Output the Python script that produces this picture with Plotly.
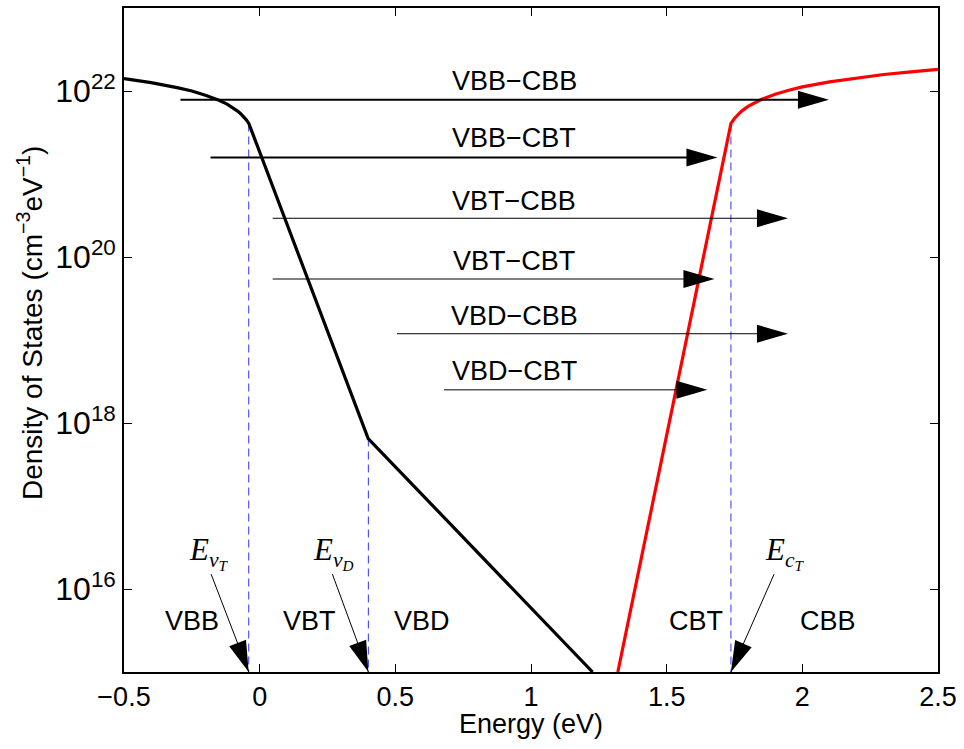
import numpy as np
import plotly.graph_objects as go

# ---------------- data ----------------
# valence band density of states (black)
vb_energy = [-0.5, -0.45, -0.4, -0.3, -0.25, -0.2, -0.15, -0.12, -0.1, -0.08, -0.07, -0.06, -0.05, -0.04, 0.40, 1.227]
vb_dos = [1.41e22, 1.338e22, 1.26e22, 1.09e22, 9.99e21, 8.9e21, 7.75e21, 6.95e21, 6.35e21, 5.69e21,
          5.33e21, 4.95e21, 4.53e21, 4.07e21, 6.5e17, 1.0e15]

# conduction band density of states (red)
cb_energy = [1.320, 1.737, 1.75, 1.76, 1.77, 1.78, 1.80, 1.85, 1.90, 1.95, 2.0, 2.1, 2.2, 2.3, 2.4, 2.5]
cb_dos = [1.0e15, 4.07e21, 4.67e21, 5.10e21, 5.48e21, 5.85e21, 6.52e21, 7.94e21, 9.15e21, 1.02e22,
          1.12e22, 1.29e22, 1.44e22, 1.58e22, 1.70e22, 1.82e22]

# transition arrows
arrow_labels = ["VBB\u2212CBB", "VBB\u2212CBT", "VBT\u2212CBB", "VBT\u2212CBT", "VBD\u2212CBB", "VBD\u2212CBT"]
arrow_start = [-0.292, -0.181, 0.048, 0.048, 0.506, 0.679]
arrow_end = [2.098, 1.687, 1.947, 1.676, 1.947, 1.650]
arrow_level = [7.87e21, 1.585e21, 2.93e20, 5.43e19, 1.19e19, 2.51e18]
arrow_width = [2, 2, 1, 1, 1, 1]
label_energy = [0.938, 0.938, 0.938, 0.938, 0.938, 0.938]
label_level = [1.32e22, 2.75e21, 4.77e20, 9.06e19, 1.96e19, 4.22e18]

# band-edge markers
edge_names = ["<i>E</i><sub><i>v</i><sub><i>T</i></sub></sub>",
              "<i>E</i><sub><i>v</i><sub><i>D</i></sub></sub>",
              "<i>E</i><sub><i>c</i><sub><i>T</i></sub></sub>"]
edge_energy = [-0.0404, 0.4007, 1.7368]
edge_knee = [4.07e21, 6.5e17, 4.07e21]
edge_tail_energy = [-0.179, 0.268, 1.896]
edge_tail_level = [1.51e16, 1.51e16, 1.51e16]
edge_label_energy = [-0.185, 0.271, 1.936]
edge_label_level = [2.75e16, 2.75e16, 2.75e16]

# region names
region_names = ["VBB", "VBT", "VBD", "CBT", "CBB"]
region_energy = [-0.249, 0.182, 0.597, 1.608, 2.096]
region_level = [4.07e15, 4.07e15, 4.07e15, 4.07e15, 4.07e15]

x_ticks = [-0.5, 0, 0.5, 1, 1.5, 2, 2.5]
y_ticks = [1e16, 1e18, 1e20, 1e22]
y_ticktext = ["10<sup>16</sup>", "10<sup>18</sup>", "10<sup>20</sup>", "10<sup>22</sup>"]
x_range = [-0.5, 2.5]
y_range_log = [15, 23]

# ---------------- layout constants ----------------
W, H = 964, 749
ML, MR, MT, MB = 124, 26, 6, 77
PW, PH = W - ML - MR, H - MT - MB
SANS = "Liberation Sans, Arial, Helvetica, sans-serif"
SERIF = "Liberation Serif, Times New Roman, serif"
HEAD_L, HEAD_W = 31, 9


def to_px(e, d):
    px = ML + (e - x_range[0]) / (x_range[1] - x_range[0]) * PW
    py = MT + (y_range_log[1] - np.log10(d)) / (y_range_log[1] - y_range_log[0]) * PH
    return px, py


def head_path(ux, uy):
    nx, ny = -uy, ux
    p1 = (-HEAD_L * ux + HEAD_W * nx, -HEAD_L * uy + HEAD_W * ny)
    p2 = (-HEAD_L * ux - HEAD_W * nx, -HEAD_L * uy - HEAD_W * ny)
    return f"M0,0 L{p1[0]:.2f},{-p1[1]:.2f} L{p2[0]:.2f},{-p2[1]:.2f} Z"


def head_shape(e, d, ux, uy):
    return dict(type="path", xref="x", yref="y", xsizemode="pixel", ysizemode="pixel",
                xanchor=e, yanchor=d, path=head_path(ux, uy),
                fillcolor="black", line=dict(width=0), layer="above")


fig = go.Figure()
shapes = []
annotations = []

# dashed band-edge lines
ybottom = 10 ** y_range_log[0]
for e, k in zip(edge_energy, edge_knee):
    fig.add_trace(go.Scatter(x=[e, e], y=[k, ybottom], mode="lines",
                             line=dict(color="#4646ff", width=1.1, dash="8px,5px"), hoverinfo="skip"))

# DOS curves
fig.add_trace(go.Scatter(x=vb_energy, y=vb_dos, mode="lines", line=dict(color="black", width=3.2)))
fig.add_trace(go.Scatter(x=cb_energy, y=cb_dos, mode="lines", line=dict(color="red", width=3.2)))

# transition arrows
for lab, xs, xe, lv, lw, le, ll in zip(arrow_labels, arrow_start, arrow_end, arrow_level,
                                       arrow_width, label_energy, label_level):
    fig.add_trace(go.Scatter(x=[xs, xe - 0.02], y=[lv, lv], mode="lines",
                             line=dict(color="black", width=lw), hoverinfo="skip"))
    shapes.append(head_shape(xe, lv, 1.0, 0.0))
    annotations.append(dict(x=le, y=np.log10(ll), xref="x", yref="y", text=lab, showarrow=False,
                            font=dict(family=SANS, size=27, color="black"),
                            xanchor="center", yanchor="middle"))

# band-edge arrows and labels
for name, e, te, tl, le, ll in zip(edge_names, edge_energy, edge_tail_energy, edge_tail_level,
                                   edge_label_energy, edge_label_level):
    fig.add_trace(go.Scatter(x=[te, e], y=[tl, ybottom], mode="lines",
                             line=dict(color="black", width=1), hoverinfo="skip"))
    tx, ty = to_px(te, tl)
    hx, hy = to_px(e, ybottom)
    dx, dy = hx - tx, hy - ty
    n = np.hypot(dx, dy)
    shapes.append(head_shape(e, ybottom, dx / n, dy / n))
    annotations.append(dict(x=le, y=np.log10(ll), xref="x", yref="y", text=name, showarrow=False,
                            font=dict(family=SERIF, size=31, color="black"),
                            xanchor="center", yanchor="middle"))

# region names
for name, e, lv in zip(region_names, region_energy, region_level):
    annotations.append(dict(x=e, y=np.log10(lv), xref="x", yref="y", text=name, showarrow=False,
                            font=dict(family=SANS, size=27, color="black"),
                            xanchor="center", yanchor="middle"))

# axis titles
annotations.append(dict(x=(30 - ML) / PW, y=(MT + PH - 322) / PH, xref="paper", yref="paper",
                        text="Density of States (cm<sup>\u22123</sup>eV<sup>\u22121</sup>)",
                        textangle=-90, showarrow=False, xanchor="center", yanchor="middle",
                        font=dict(family=SANS, size=28, color="black")))
annotations.append(dict(x=0.5, y=-(724 - (MT + PH)) / PH, xref="paper", yref="paper",
                        text="Energy (eV)", showarrow=False, xanchor="center", yanchor="middle",
                        font=dict(family=SANS, size=27, color="black")))

fig.update_layout(
    width=W, height=H,
    margin=dict(l=ML, r=MR, t=MT, b=MB),
    plot_bgcolor="white", paper_bgcolor="white",
    showlegend=False,
    font=dict(family=SANS, color="black"),
    shapes=shapes, annotations=annotations,
)
fig.update_xaxes(range=x_range, tickmode="array", tickvals=x_ticks,
                 ticks="inside", ticklen=8, tickwidth=1.3, tickcolor="black",
                 showline=True, linecolor="black", linewidth=1.6, mirror="allticks",
                 showgrid=False, zeroline=False, tickfont=dict(family=SANS, size=27, color="black"))
fig.update_yaxes(type="log", range=y_range_log, tickmode="array", tickvals=y_ticks, ticktext=y_ticktext,
                 ticks="inside", ticklen=8, tickwidth=1.3, tickcolor="black",
                 showline=True, linecolor="black", linewidth=1.6, mirror="allticks",
                 showgrid=False, zeroline=False, tickfont=dict(family=SANS, size=32, color="black"))

fig.write_html("out.html", config={"displayModeBar": False},
               post_script="document.body.style.margin='0px';")
